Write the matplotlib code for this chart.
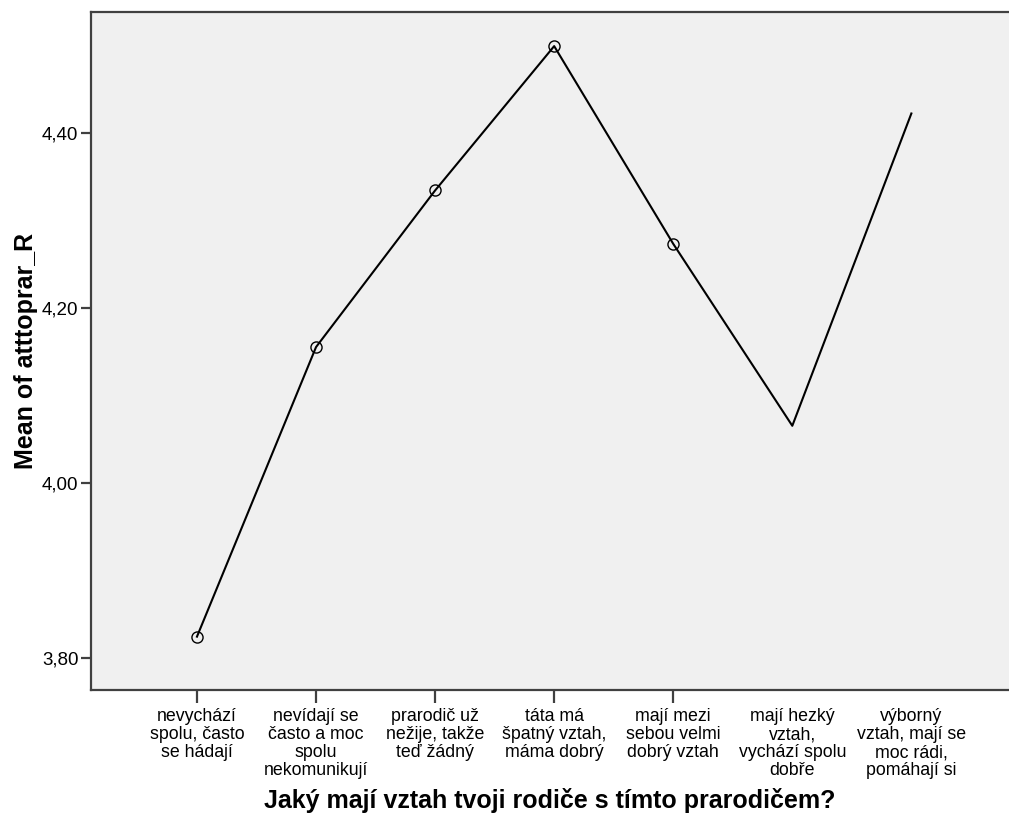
import matplotlib
matplotlib.use("Agg")
from matplotlib import pyplot as plt

# category labels (line breaks as in the SPSS output)
categories = [
    "nevychází\nspolu, často\nse hádají",
    "nevídají se\nčasto a moc\nspolu\nnekomunikují",
    "prarodič už\nnežije, takže\nteď žádný",
    "táta má\nšpatný vztah,\nmáma dobrý",
    "mají mezi\nsebou velmi\ndobrý vztah",
    "mají hezký\nvztah,\nvychází spolu\ndobře",
    "výborný\nvztah, mají se\nmoc rádi,\npomáhají si",
]
mean_values = [3.824, 4.155, 4.334, 4.499, 4.273, 4.065, 4.422]
y_ticks = [3.80, 4.00, 4.20, 4.40]
y_tick_labels = ["3,80", "4,00", "4,20", "4,40"]
x_title = "Jaký mají vztah tvoji rodiče s tímto prarodičem?"
y_title = "Mean of atttoprar_R"

plt.rcParams["font.family"] = ["Liberation Sans", "DejaVu Sans"]

fig = plt.figure(figsize=(10.09, 8.17), dpi=100)
ax = fig.add_axes([91 / 1009, 1 - 690 / 817, 1 - 91 / 1009, (690 - 12) / 817])
ax.set_facecolor("#f0f0f0")

x = list(range(len(categories)))
ax.plot(x, mean_values, color="black", linewidth=1.5, marker="o",
        markersize=8, markerfacecolor="none", markeredgecolor="black",
        markeredgewidth=1.0, markevery=list(range(5)))

ax.set_xlim(-0.89, 6.82)
ax.set_ylim(3.763, 4.538)

ax.set_xticks(x)
ax.set_xticklabels(categories, fontsize=12.8, linespacing=1.08)
ax.set_yticks(y_ticks)
ax.set_yticklabels(y_tick_labels, fontsize=13.5)

for name in ["left", "bottom", "top"]:
    ax.spines[name].set_color("#404040")
    ax.spines[name].set_linewidth(1.6)
ax.spines["right"].set_visible(False)

ax.tick_params(axis="x", length=9, width=1.6, color="#404040", pad=4)
ax.tick_params(axis="y", length=7, width=1.6, color="#404040", pad=2)

# SPSS leaves the last two categories without tick marks
for tick in ax.xaxis.get_major_ticks()[5:]:
    tick.tick1line.set_visible(False)

ax.set_xlabel(x_title, fontsize=18, fontweight="bold", labelpad=6)
ax.set_ylabel(y_title, fontsize=18, fontweight="bold", labelpad=3)

fig.savefig("out.png", dpi=100)
